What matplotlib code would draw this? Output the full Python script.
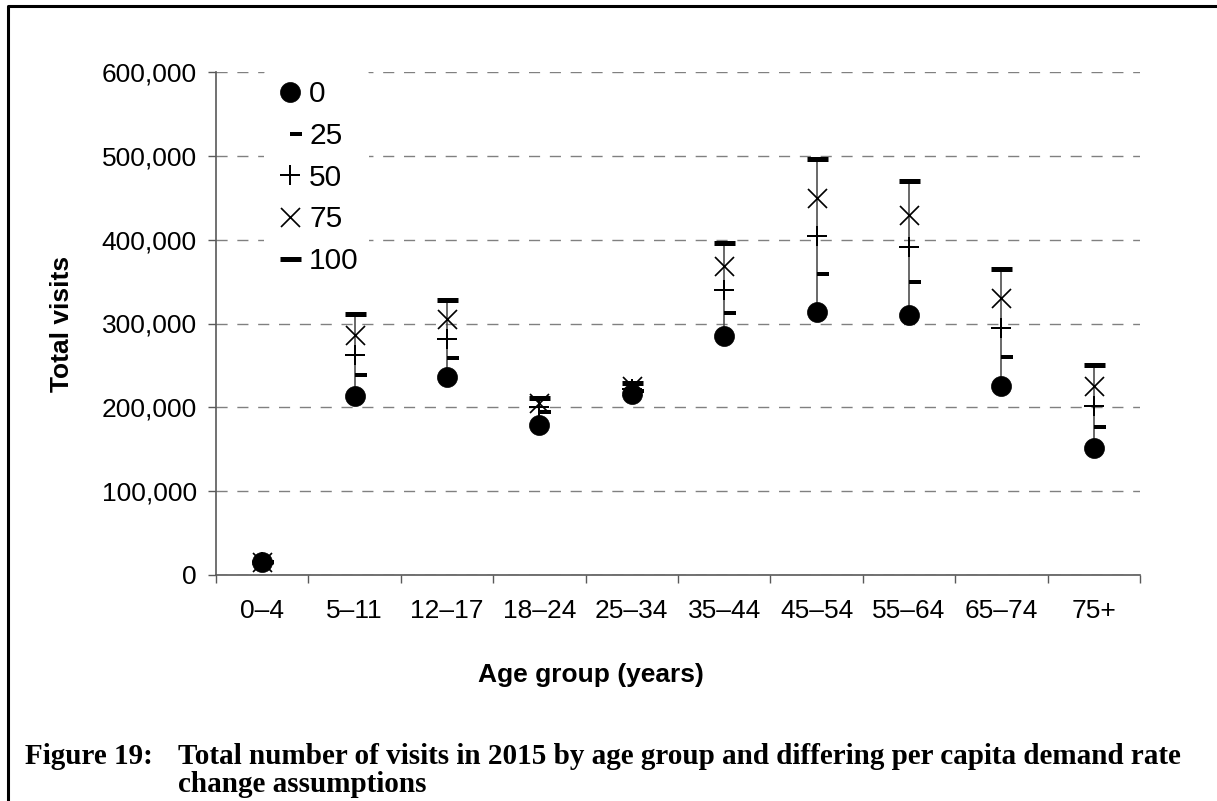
import numpy as np
import matplotlib
matplotlib.use('Agg')
import matplotlib.pyplot as plt
from matplotlib.lines import Line2D
from matplotlib.path import Path
from matplotlib.ticker import FuncFormatter, MultipleLocator

# ==========================================
# DATA
# ==========================================
age_groups = ['0\u20134', '5\u201311', '12\u201317', '18\u201324', '25\u201334',
              '35\u201344', '45\u201354', '55\u201364', '65\u201374', '75+']
rate_0 = [15000, 214000, 236000, 179000, 216000, 285000, 314000, 310000, 225000, 152000]
rate_25 = [15000, 239000, 259000, 195000, 219000, 313000, 359000, 350000, 260000, 177000]
rate_50 = [15000, 262000, 282000, 200000, 222000, 340000, 404000, 391000, 295000, 201000]
rate_75 = [15000, 286000, 305000, 205000, 226000, 368000, 450000, 430000, 330000, 226000]
rate_100 = [15000, 311000, 328000, 211000, 229000, 396000, 496000, 470000, 365000, 250000]
series_names = ['0', '25', '50', '75', '100']

SANS = 'Liberation Sans'
SERIF = 'Liberation Serif'
PX = 72 / 100  # points per pixel at dpi 100

# short dash sitting to the right of the line (Excel style marker)
short_dash = Path([(0, -0.2), (1, -0.2), (1, 0.2), (0, 0.2), (0, -0.2)],
                  [Path.MOVETO, Path.LINETO, Path.LINETO, Path.LINETO, Path.CLOSEPOLY])

styles = [
    dict(marker='o', markersize=20 * PX, markerfacecolor='black', markeredgecolor='black',
         markeredgewidth=0.5, zorder=6),
    dict(marker=short_dash, markersize=24 * PX, markerfacecolor='black', markeredgecolor='black',
         markeredgewidth=0, zorder=4),
    dict(marker='+', markersize=20 * PX, markeredgecolor='black', markeredgewidth=2 * PX, zorder=4),
    dict(marker='x', markersize=19 * PX, markeredgecolor='black', markeredgewidth=1.7 * PX, zorder=4),
    dict(marker='_', markersize=21 * PX, markeredgecolor='black', markeredgewidth=5 * PX, zorder=4),
]

fig = plt.figure(figsize=(12.17, 8.01), dpi=100)
ax = fig.add_axes([216 / 1217, 1 - 575 / 801, (1140 - 216) / 1217, (575 - 72) / 801])

x = np.arange(len(age_groups))
all_series = [rate_0, rate_25, rate_50, rate_75, rate_100]

# high-low lines
ax.vlines(x, rate_0, rate_100, color='#404040', lw=1.1, zorder=3)

handles = []
for vals, name, st in zip(all_series, series_names, styles):
    ax.plot(x, vals, linestyle='none', **st)
    handles.append(Line2D([], [], linestyle='none', label=name, **{k: v for k, v in st.items() if k != 'zorder'}))

ax.set_xlim(-0.5, len(age_groups) - 0.5)
ax.set_ylim(0, 600000)
ax.yaxis.set_major_locator(MultipleLocator(100000))
ax.yaxis.set_major_formatter(FuncFormatter(lambda v, p: f'{int(v):,}'))
ax.set_xticks(x)
ax.set_xticklabels(age_groups)
ax.set_xticks(np.arange(-0.5, len(age_groups)), minor=True)

ax.grid(axis='y', color='#808080', lw=1.0, linestyle=(0, (8, 7)))
ax.set_axisbelow(True)

for s in ['top', 'right']:
    ax.spines[s].set_visible(False)
for s in ['left', 'bottom']:
    ax.spines[s].set_color('#595959')
    ax.spines[s].set_linewidth(1.2)

ax.tick_params(axis='y', direction='out', length=8 * PX, width=1, color='#595959',
               pad=8, labelsize=19)
ax.tick_params(axis='x', which='major', length=0, pad=17, labelsize=19)
ax.tick_params(axis='x', which='minor', direction='out', length=8 * PX, width=1, color='#595959')
for lab in ax.get_xticklabels() + ax.get_yticklabels():
    lab.set_family(SANS)

ax.set_ylabel('Total visits', fontsize=19, fontweight='bold', family=SANS, labelpad=20)
ax.set_xlabel('Age group (years)', fontsize=19, fontweight='bold', family=SANS, labelpad=18)
ax.xaxis.set_label_coords((591 - 216) / 924, -(663 - 575) / 503)

leg = ax.legend(handles=handles, loc='upper left', bbox_to_anchor=(48 / 924, 1.005),
                frameon=True, facecolor='white', edgecolor='none', framealpha=1,
                handlelength=1.0, handletextpad=0.15, labelspacing=0.46,
                borderpad=0.36, borderaxespad=0, prop={'family': SANS, 'size': 21.5})
leg.set_zorder(10)

# page frame (left and top rules)
fig.add_artist(Line2D([8 / 1217, 8 / 1217, 1.0], [0.0, 1 - 6 / 801, 1 - 6 / 801],
                      transform=fig.transFigure, color='black', lw=2.2))

# caption
fig.text(25 / 1217, 1 - 756 / 801, 'Figure 19:', family=SERIF, fontweight='bold',
         fontsize=21, va='center', ha='left')
fig.text(178 / 1217, 1 - 756 / 801,
         'Total number of visits in 2015 by age group and differing per capita demand rate',
         family=SERIF, fontweight='bold', fontsize=21, va='center', ha='left')
fig.text(178 / 1217, 1 - 785 / 801, 'change assumptions', family=SERIF, fontweight='bold',
         fontsize=21, va='center', ha='left')

fig.savefig('out.png', dpi=100)
